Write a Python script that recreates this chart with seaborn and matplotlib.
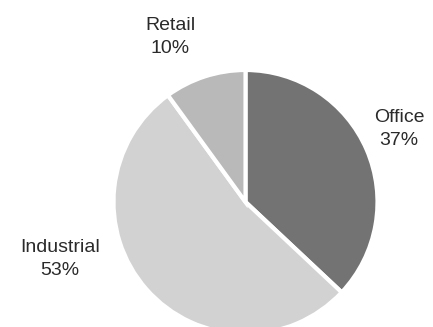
import matplotlib
matplotlib.use("Agg")
import matplotlib.pyplot as plt
import seaborn as sns

categories = ["Office", "Industrial", "Retail"]
shares = [37, 53, 10]
colors = ["#737373", "#d2d2d2", "#b9b9b9"]

sns.set_theme(style="white")
plt.rcParams['font.family'] = ['Liberation Sans', 'DejaVu Sans']

W, H = 433, 327
fig = plt.figure(figsize=(W / 100, H / 100), dpi=100)
ax = fig.add_axes([0, 0, 1, 1])

cx, cy, r = 245.5, 202, 132
ax.pie(shares, colors=colors, startangle=90, counterclock=False,
       radius=1, center=(0, 0),
       wedgeprops=dict(edgecolor="white", linewidth=3))

def px(x, y):
    return ((x - cx) / r, (cy - y) / r)

label_pos = {"Office": (399, 129), "Industrial": (60, 259), "Retail": (170, 37)}
for cat, val in zip(categories, shares):
    x, y = px(*label_pos[cat])
    ax.text(x, y, f"{cat}\n{val}%", ha="center", va="center",
            fontsize=14, color="#2a2a2a", linespacing=1.4)

ax.set_xlim(-cx / r, (W - cx) / r)
ax.set_ylim(-(H - cy) / r, cy / r)
ax.set_aspect("equal", adjustable="datalim")
ax.axis("off")

fig.savefig("out.png", dpi=100)
